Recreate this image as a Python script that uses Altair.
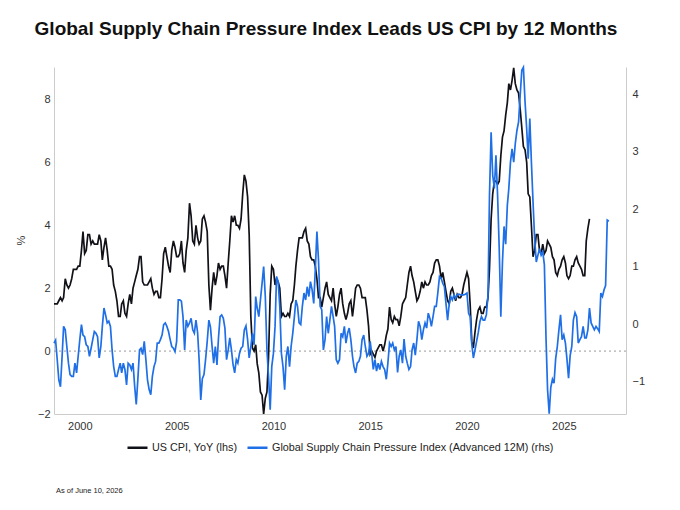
import altair as alt
import pandas as pd

title_text = "Global Supply Chain Pressure Index Leads US CPI by 12 Months"
cpi_name = "US CPI, YoY (lhs)"
gscpi_name = "Global Supply Chain Pressure Index (Advanced 12M) (rhs)"
note_text = "As of June 10, 2026"

# US CPI YoY (%), monthly from Sep 1998 to May 2026
cpi_start = "1998-09-01"
cpi_values = [
    1.5, 1.5, 1.5, 1.6,                                      # 1998 Sep-Dec
    1.7, 1.6, 1.7, 2.3, 2.1, 2.0, 2.1, 2.3, 2.6, 2.6, 2.6, 2.7,   # 1999
    2.7, 3.2, 3.8, 3.1, 3.2, 3.7, 3.7, 3.4, 3.5, 3.4, 3.4, 3.4,   # 2000
    3.7, 3.5, 2.9, 3.3, 3.6, 3.2, 2.7, 2.7, 2.6, 2.1, 1.9, 1.6,   # 2001
    1.1, 1.1, 1.5, 1.6, 1.2, 1.1, 1.5, 1.8, 1.5, 2.0, 2.2, 2.4,   # 2002
    2.6, 3.0, 3.0, 2.2, 2.1, 2.1, 2.1, 2.2, 2.3, 2.0, 1.8, 1.9,   # 2003
    1.9, 1.7, 1.7, 2.3, 3.1, 3.3, 3.0, 2.7, 2.5, 3.2, 3.5, 3.3,   # 2004
    3.0, 3.0, 3.1, 3.5, 2.8, 2.5, 3.2, 3.6, 4.7, 4.3, 3.5, 3.4,   # 2005
    4.0, 3.6, 3.4, 3.5, 4.2, 4.3, 4.1, 3.8, 2.1, 1.3, 2.0, 2.5,   # 2006
    2.1, 2.4, 2.8, 2.6, 2.7, 2.7, 2.4, 2.0, 2.8, 3.5, 4.3, 4.1,   # 2007
    4.3, 4.0, 4.0, 3.9, 4.2, 5.0, 5.6, 5.4, 4.9, 3.7, 1.1, 0.1,   # 2008
    0.0, 0.2, -0.4, -0.7, -1.3, -1.4, -2.0, -1.5, -1.3, -0.2, 1.8, 2.7,  # 2009
    2.6, 2.1, 2.3, 2.2, 2.0, 1.1, 1.2, 1.1, 1.1, 1.2, 1.1, 1.5,   # 2010
    1.6, 2.1, 2.7, 3.2, 3.6, 3.6, 3.6, 3.8, 3.9, 3.5, 3.4, 3.0,   # 2011
    2.9, 2.9, 2.7, 2.3, 1.7, 1.7, 1.4, 1.7, 2.0, 2.2, 1.8, 1.7,   # 2012
    1.6, 2.0, 1.5, 1.1, 1.4, 1.8, 2.0, 1.5, 1.2, 1.0, 1.2, 1.5,   # 2013
    1.6, 1.1, 1.5, 2.0, 2.1, 2.1, 2.0, 1.7, 1.7, 1.7, 1.3, 0.8,   # 2014
    -0.1, 0.0, -0.1, -0.2, 0.0, 0.1, 0.2, 0.2, 0.0, 0.2, 0.5, 0.7,  # 2015
    1.4, 1.0, 0.9, 1.1, 1.0, 1.0, 0.8, 1.1, 1.5, 1.6, 1.7, 2.1,   # 2016
    2.5, 2.7, 2.4, 2.2, 1.9, 1.6, 1.7, 1.9, 2.2, 2.0, 2.2, 2.1,   # 2017
    2.1, 2.2, 2.4, 2.5, 2.8, 2.9, 2.9, 2.7, 2.3, 2.5, 2.2, 1.9,   # 2018
    1.6, 1.5, 1.9, 2.0, 1.8, 1.6, 1.8, 1.7, 1.7, 1.8, 2.1, 2.3,   # 2019
    2.5, 2.3, 1.5, 0.3, 0.1, 0.6, 1.0, 1.3, 1.4, 1.2, 1.2, 1.4,   # 2020
    1.4, 1.7, 2.6, 4.2, 5.0, 5.4, 5.4, 5.3, 5.4, 6.2, 6.8, 7.0,   # 2021
    7.5, 7.9, 8.5, 8.3, 8.6, 9.0, 8.5, 8.3, 8.2, 7.7, 7.1, 6.5,   # 2022
    6.4, 6.0, 5.0, 4.9, 4.0, 3.0, 3.2, 3.7, 3.7, 3.2, 3.1, 3.4,   # 2023
    3.1, 3.2, 3.5, 3.4, 3.3, 3.0, 2.9, 2.5, 2.4, 2.6, 2.7, 2.9,   # 2024
    3.0, 2.8, 2.4, 2.3, 2.4, 2.7, 2.7, 2.9, 3.0, 2.8, 2.7, 2.6,   # 2025
    2.4, 2.4, 3.5, 3.9, 4.2,                                  # 2026 Jan-May
]

# GSCPI shifted forward 12 months, monthly from Sep 1998 to May 2027
gscpi_start = "1998-09-01"
gscpi_values = [
    -0.33, -0.28, -0.62, -0.97,                                                      # 1998
    -1.09, -0.56, -0.04, -0.10, -0.39, -0.68, -0.88, -0.91, -0.91, -0.68, -0.85, -0.56,  # 1999
    -0.27, -0.01, -0.19, -0.22, -0.36, -0.39, -0.56, -0.42, -0.27, -0.13, -0.16, -0.22,  # 2000
    -0.59, -0.39, -0.04, 0.28, 0.16, 0.02, 0.05, -0.04, -0.45, -0.74, -0.91, -0.91,      # 2001
    -0.79, -0.68, -0.85, -0.68, -0.79, -1.06, -0.68, -0.71, -0.79, -0.68, -1.08, -1.40,  # 2002
    -0.95, -0.45, -0.42, -0.53, -0.30, -0.62, -0.97, -1.14, -1.23, -0.91, -0.74, -0.65,  # 2003
    -0.33, -0.33, -0.27, -0.19, -0.01, 0.02, -0.04, -0.13, -0.27, -0.39, -0.42, -0.48,   # 2004
    -0.30, 0.42, 0.42, 0.40, 0.13, -0.45, 0.07, -0.04, 0.02, 0.10, -0.10, -0.16,         # 2005
    0.07, -0.15, -0.62, -1.32, -0.95, -0.88, -0.62, -0.30, 0.07, -0.05, -0.39, -0.68,    # 2006
    -0.39, -0.71, -0.25, 0.13, 0.16, 0.10, -0.07, -0.62, -0.45, -0.24, -0.45, -0.70,     # 2007
    -0.85, -0.62, -0.68, -0.51, -0.42, -0.39, -0.10, -0.03, -0.27, -0.59, -0.39, -0.16,  # 2008
    -0.36, 0.48, 0.28, 0.13, 0.42, 0.71, 1.00, 0.48, -0.45, -0.91, -1.49, -0.74,         # 2009
    -0.51, -0.04, 0.83, 0.74, 0.31, -0.51, -0.74, -1.14, -0.56, -0.39, -0.74, -0.39,     # 2010
    -0.16, 0.13, 0.42, 0.31, 0.02, -0.01, 0.31, 0.54, 0.42, 0.65, 0.48, 0.74,            # 2011
    0.60, 0.36, 0.94, 1.61, 1.11, 0.31, 0.25, -0.45, -0.27, 0.13, -0.16, 0.07,           # 2012
    0.31, 0.13, -0.04, -0.62, -0.68, -0.62, -0.16, -0.22, -0.04, -0.33, -0.16, -0.07,    # 2013
    -0.27, -0.56, -0.74, -0.85, -0.68, -0.65, -0.56, -0.27, -0.19, -0.39, -0.56, -0.51,  # 2014
    -0.30, -0.54, -0.79, -0.62, -0.82, -0.68, -0.79, -0.65, -0.74, -0.79, -0.96, -0.68,  # 2015
    -0.33, -0.39, -0.33, -0.45, -0.39, -0.84, -0.56, -0.45, -0.68, -0.26, -0.56, -0.68,  # 2016
    -0.79, -0.74, -0.45, -0.33, -0.54, -0.27, 0.05, -0.04, -0.27, -0.10, 0.02, -0.07,    # 2017
    0.19, 0.10, -0.04, 0.13, 0.31, 0.31, 0.55, 0.83, 0.80, 0.71, 0.65, 0.36,             # 2018
    0.07, 0.36, 0.48, 0.42, 0.51, 0.45, 0.51, 0.52, 0.51, 0.51, 0.51, 0.52,              # 2019
    0.54, 0.19, 0.13, -0.35, -0.59, -0.45, -0.30, -0.15, 0.04, 0.13, 0.07, 0.07,         # 2020
    0.16, 0.50, 2.24, 3.34, 2.59, 2.36, 2.94, 2.24, 1.31, 0.13, 1.08, 1.70,              # 2021
    1.39, 2.07, 2.36, 2.82, 3.05, 2.82, 3.14, 3.37, 3.52, 3.98, 4.42, 4.47,              # 2022
    3.87, 3.40, 2.88, 3.58, 2.82, 2.12, 1.49, 1.08, 1.20, 1.31, 1.20, 1.26,              # 2023
    1.03, -0.25, -1.14, -1.56, -1.10, -0.96, -1.03, -0.60, -0.39, -0.10, 0.16, -0.27,    # 2024
    -0.19, -0.33, -0.60, -0.94, -0.55, -0.39, 0.07, 0.20, 0.13, -0.33, -0.27, -0.22,     # 2025
    -0.04, -0.24, -0.24, -0.10, 0.28, 0.02, -0.04, -0.10, -0.04, -0.08, -0.13, 0.54,     # 2026
    0.48, 0.60, 0.67, 1.81, 1.79,                                                        # 2027
]

year_ticks = [2000, 2005, 2010, 2015, 2020, 2025]
lhs_ticks = [-2, 0, 2, 4, 6, 8]
rhs_ticks = [-1, 0, 1, 2, 3, 4]

FONT = "Liberation Sans"
BLACK = "#111118"
BLUE = "#1f6fe6"

cpi_df = pd.DataFrame({
    "date": pd.date_range(cpi_start, periods=len(cpi_values), freq="MS"),
    "value": cpi_values,
    "series": cpi_name,
})
gscpi_df = pd.DataFrame({
    "date": pd.date_range(gscpi_start, periods=len(gscpi_values), freq="MS"),
    "value": gscpi_values,
    "series": gscpi_name,
})
zero_df = pd.DataFrame({"level": [0]})
note_df = pd.DataFrame({"note": [note_text]})

x_enc = alt.X(
    "date:T",
    scale=alt.Scale(domain=[alt.DateTime(year=1998, month=9, date=1),
                            alt.DateTime(year=2028, month=3, date=20)]),
    axis=alt.Axis(title=None, values=[alt.DateTime(year=y, month=1, date=1) for y in year_ticks],
                  format="%Y", labelAngle=0, ticks=False, grid=False, labelPadding=6,
                  domainColor="#cccccc", labelColor="#333333", labelFontSize=11, labelFont=FONT),
)

color_enc = alt.Color(
    "series:N",
    scale=alt.Scale(domain=[cpi_name, gscpi_name], range=[BLACK, BLUE]),
    legend=alt.Legend(title=None, orient="none", legendX=72, legendY=369, direction="horizontal",
                      columns=2, symbolType="stroke", symbolSize=400, symbolStrokeWidth=2.5,
                      labelFontSize=10.8, labelFont=FONT, labelColor="#222222", labelLimit=0,
                      labelOffset=3, columnPadding=4),
)

cpi_line = alt.Chart(cpi_df).mark_line(strokeWidth=1.7).encode(
    x=x_enc,
    y=alt.Y("value:Q",
            scale=alt.Scale(domain=[-2, 9.03], nice=False, zero=False),
            axis=alt.Axis(title="%", values=lhs_ticks, ticks=False, grid=False, labelPadding=4,
                          domainColor="#cccccc", labelColor="#333333", labelFontSize=11,
                          labelFont=FONT, titleFont=FONT, titleFontSize=11,
                          titleFontWeight="normal", titleColor="#333333",
                          titleX=-28, titleY=173)),
    color=color_enc,
)

zero_rule = alt.Chart(zero_df).mark_rule(color="#9a9a9a", strokeDash=[2, 3], strokeWidth=1).encode(
    y="level:Q"
)

note = alt.Chart(note_df).mark_text(align="left", baseline="alphabetic", fontSize=7.5,
                                    font=FONT, color="#222222").encode(
    x=alt.value(2), y=alt.value(426), text="note:N"
)

gscpi_line = alt.Chart(gscpi_df).mark_line(strokeWidth=1.7).encode(
    x=x_enc,
    y=alt.Y("value:Q",
            scale=alt.Scale(domain=[-1.565, 4.475], nice=False, zero=False),
            axis=alt.Axis(title=None, orient="right", values=rhs_ticks, ticks=False, grid=False,
                          labelPadding=6, domainColor="#cccccc", labelColor="#333333",
                          labelFontSize=11, labelFont=FONT)),
    color=color_enc,
)

left = alt.layer(zero_rule, cpi_line, note)

chart = alt.layer(left, gscpi_line).resolve_scale(y="independent").properties(
    width=572,
    height=347,
    autosize=alt.AutoSizeParams(type="none"),
    padding={"left": 46, "top": 59, "right": 40, "bottom": 84},
    title=alt.TitleParams(title_text, fontSize=19, fontWeight="bold", font=FONT, color="#111111",
                          anchor="middle", frame="group", dx=-14, offset=25),
).configure_view(stroke=None)

chart.save("out.html", embed_options={"renderer": "svg", "actions": False})
